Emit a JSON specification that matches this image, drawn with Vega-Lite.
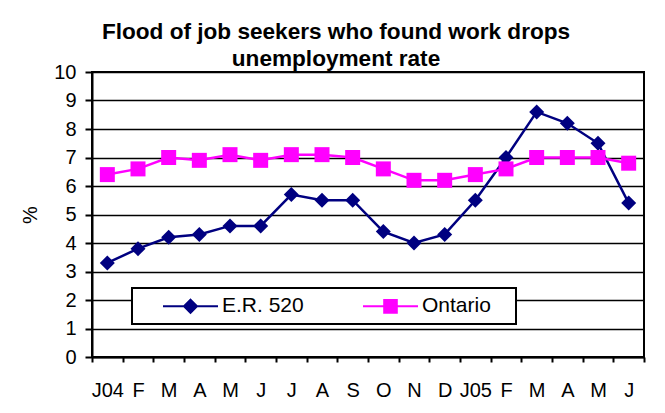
{
  "$schema": "https://vega.github.io/schema/vega-lite/v6.json",
  "width": 552,
  "height": 285,
  "autosize": {"type": "none"},
  "padding": {"left": 92, "top": 72, "right": 21, "bottom": 56},
  "background": "white",
  "title": {
    "text": ["Flood of job seekers who found work drops", "unemployment rate"],
    "font": "Liberation Sans",
    "fontSize": 22.6,
    "fontWeight": "bold",
    "color": "black",
    "anchor": "middle",
    "frame": "group",
    "dx": -32,
    "offset": -9,
    "lineHeight": 27
  },
  "data": {
    "values": [
      {"month": "2004-01", "series": "E.R. 520", "rate": 3.3},
      {"month": "2004-02", "series": "E.R. 520", "rate": 3.8},
      {"month": "2004-03", "series": "E.R. 520", "rate": 4.2},
      {"month": "2004-04", "series": "E.R. 520", "rate": 4.3},
      {"month": "2004-05", "series": "E.R. 520", "rate": 4.6},
      {"month": "2004-06", "series": "E.R. 520", "rate": 4.6},
      {"month": "2004-07", "series": "E.R. 520", "rate": 5.7},
      {"month": "2004-08", "series": "E.R. 520", "rate": 5.5},
      {"month": "2004-09", "series": "E.R. 520", "rate": 5.5},
      {"month": "2004-10", "series": "E.R. 520", "rate": 4.4},
      {"month": "2004-11", "series": "E.R. 520", "rate": 4.0},
      {"month": "2004-12", "series": "E.R. 520", "rate": 4.3},
      {"month": "2005-01", "series": "E.R. 520", "rate": 5.5},
      {"month": "2005-02", "series": "E.R. 520", "rate": 7.0},
      {"month": "2005-03", "series": "E.R. 520", "rate": 8.6},
      {"month": "2005-04", "series": "E.R. 520", "rate": 8.2},
      {"month": "2005-05", "series": "E.R. 520", "rate": 7.5},
      {"month": "2005-06", "series": "E.R. 520", "rate": 5.4},
      {"month": "2004-01", "series": "Ontario", "rate": 6.4},
      {"month": "2004-02", "series": "Ontario", "rate": 6.6},
      {"month": "2004-03", "series": "Ontario", "rate": 7.0},
      {"month": "2004-04", "series": "Ontario", "rate": 6.9},
      {"month": "2004-05", "series": "Ontario", "rate": 7.1},
      {"month": "2004-06", "series": "Ontario", "rate": 6.9},
      {"month": "2004-07", "series": "Ontario", "rate": 7.1},
      {"month": "2004-08", "series": "Ontario", "rate": 7.1},
      {"month": "2004-09", "series": "Ontario", "rate": 7.0},
      {"month": "2004-10", "series": "Ontario", "rate": 6.6},
      {"month": "2004-11", "series": "Ontario", "rate": 6.2},
      {"month": "2004-12", "series": "Ontario", "rate": 6.2},
      {"month": "2005-01", "series": "Ontario", "rate": 6.4},
      {"month": "2005-02", "series": "Ontario", "rate": 6.6},
      {"month": "2005-03", "series": "Ontario", "rate": 7.0},
      {"month": "2005-04", "series": "Ontario", "rate": 7.0},
      {"month": "2005-05", "series": "Ontario", "rate": 7.0},
      {"month": "2005-06", "series": "Ontario", "rate": 6.8}
    ]
  },
  "encoding": {
    "x": {
      "field": "month",
      "type": "ordinal",
      "bandPosition": 0.5,
      "scale": {"type": "band", "paddingInner": 0, "paddingOuter": 0},
      "axis": {
        "title": null,
        "labelAngle": 0,
        "tickBand": "extent",
        "tickSize": 5,
        "labelPadding": 18,
        "grid": false,
        "labelExpr": "datum.value == '2004-01' ? 'J04' : datum.value == '2005-01' ? 'J05' : ['J','F','M','A','M','J','J','A','S','O','N','D'][toNumber(substring(datum.value,5,7))-1]"
      }
    },
    "y": {
      "field": "rate",
      "type": "quantitative",
      "scale": {"domain": [0, 10], "nice": false, "zero": true},
      "axis": {
        "title": "%",
        "values": [0, 1, 2, 3, 4, 5, 6, 7, 8, 9, 10],
        "tickSize": 7,
        "labelPadding": 9,
        "grid": true,
        "gridColor": "black",
        "gridWidth": 1.5,
        "gridOpacity": 1,
        "titleFontSize": 20,
        "titleFontWeight": "normal",
        "titlePadding": 13,
        "titleColor": "black",
        "titleFont": "Liberation Sans"
      }
    },
    "color": {
      "field": "series",
      "type": "nominal",
      "scale": {"domain": ["E.R. 520", "Ontario"], "range": ["#000080", "#FF00FF"]}
    }
  },
  "layer": [
    {
      "mark": {"type": "line", "strokeWidth": 2.5},
      "encoding": {
        "color": {
          "field": "series",
          "type": "nominal",
          "scale": {"domain": ["E.R. 520", "Ontario"], "range": ["#000080", "#FF00FF"]},
          "legend": {
            "title": ".",
            "titleOrient": "right",
            "titleColor": "white",
            "titleFont": "Liberation Sans",
            "titleFontSize": 21,
            "titleFontWeight": "normal",
            "titlePadding": 12,
            "orient": "none",
            "legendX": 40,
            "legendY": 216,
            "direction": "horizontal",
            "columns": 2,
            "padding": 7,
            "strokeColor": "black",
            "fillColor": "white",
            "cornerRadius": 0,
            "labelFont": "Liberation Sans",
            "labelFontSize": 21,
            "labelColor": "black",
            "symbolSize": 400,
            "symbolStrokeWidth": 2,
            "labelOffset": 61,
            "columnPadding": 35,
            "encode": {
              "legend": {"update": {"strokeWidth": {"value": 2}}},
              "symbols": {
                "update": {
                  "shape": {"signal": "datum.value == 'E.R. 520' ? 'M1.3,0H6.8M4.05,-0.65L4.7,0L4.05,0.65L3.4,0Z' : 'M1.3,0H6.8M3.42,-0.63H4.68V0.63H3.42Z'"},
                  "fill": {"signal": "scale('color', datum.value)"},
                  "stroke": {"signal": "scale('color', datum.value)"},
                  "strokeWidth": {"value": 2},
                  "opacity": {"value": 1},
                  "fillOpacity": {"value": 1}
                }
              }
            }
          }
        }
      }
    },
    {
      "transform": [{"filter": "datum.series == 'E.R. 520'"}],
      "mark": {"type": "point", "filled": true, "size": 225, "opacity": 1, "shape": "diamond"}
    },
    {
      "transform": [{"filter": "datum.series == 'Ontario'"}],
      "mark": {"type": "point", "filled": true, "size": 225, "opacity": 1, "shape": "square"}
    }
  ],
  "config": {
    "font": "Liberation Sans",
    "view": {"stroke": "black", "strokeWidth": 2},
    "axis": {
      "labelFont": "Liberation Sans",
      "labelFontSize": 20,
      "labelColor": "black",
      "domainColor": "black",
      "domainWidth": 2,
      "tickColor": "black",
      "tickWidth": 2
    }
  }
}
